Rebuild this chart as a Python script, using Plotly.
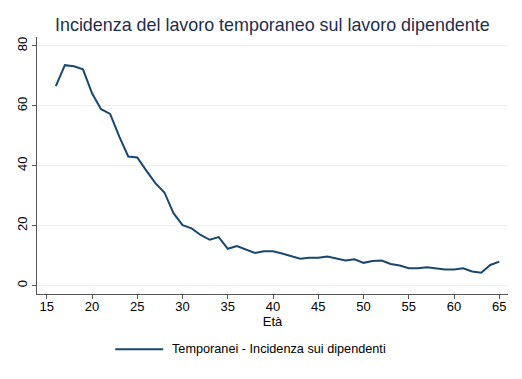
import plotly.graph_objects as go

ages = list(range(16, 66))
temporanei = [66.6, 73.6, 73.2, 72.2, 64.2, 58.9, 57.3, 49.8, 43.1, 42.8,
              38.4, 34.2, 31.1, 24.2, 20.2, 19.1, 16.9, 15.3, 16.2, 12.3,
              13.2, 12.0, 10.9, 11.5, 11.5, 10.7, 9.9, 9.0, 9.3, 9.3,
              9.7, 9.1, 8.4, 8.8, 7.6, 8.2, 8.4, 7.2, 6.7, 5.8,
              5.8, 6.1, 5.8, 5.4, 5.4, 5.8, 4.7, 4.3, 6.9, 8.0]
x_ticks = [15, 20, 25, 30, 35, 40, 45, 50, 55, 60, 65]
y_ticks = [0, 20, 40, 60, 80]

title_text = "Incidenza del lavoro temporaneo sul lavoro dipendente"
x_title = "Età"
series_name = "Temporanei - Incidenza sui dipendenti"

FONT = "Liberation Sans, Arial, sans-serif"
LINE_COLOR = "#1a476f"

# page body has an 8px margin, so the figure is sized/placed to compensate
OFF = 8
W, H = 522 - OFF, 379 - OFF
ml = 36.7 - OFF
mt = 36.7 - OFF
mr = 522 - 508
mb = 379 - 293.7
PW = W - ml - mr
PH = H - mt - mb


def xpaper(xp):
    return (xp - OFF - ml) / PW


def ypaper(yp):
    return 1 - (yp - OFF - mt) / PH


fig = go.Figure()
fig.add_trace(go.Scatter(x=ages, y=temporanei, mode="lines", name=series_name,
                         showlegend=False,
                         line=dict(color=LINE_COLOR, width=2)))

# manual legend
leg_y = 349
fig.add_shape(type="line", xref="paper", yref="paper",
              x0=xpaper(115), x1=xpaper(163), y0=ypaper(leg_y), y1=ypaper(leg_y),
              line=dict(color=LINE_COLOR, width=2))
fig.add_annotation(text=series_name, xref="paper", yref="paper",
                   x=xpaper(170), xanchor="left", y=ypaper(leg_y), yanchor="middle",
                   showarrow=False, font=dict(size=12.7, color="black", family=FONT))

fig.update_layout(
    width=W, height=H,
    margin=dict(l=ml, r=mr, t=mt, b=mb, pad=0, autoexpand=False),
    paper_bgcolor="white", plot_bgcolor="white",
    font=dict(family=FONT, color="black", size=13),
    title=dict(text=title_text, x=(ml + (W - mr)) / 2 / W, xanchor="center",
               y=1 - (25 - OFF) / H, yanchor="middle",
               font=dict(size=17.9, color="#1e2d4e", family=FONT)),
    showlegend=False,
    xaxis=dict(range=[13.92, 65.96], tickvals=x_ticks, ticks="outside", ticklen=4,
               tickcolor="#555555", showline=True, linecolor="#555555", linewidth=1,
               showgrid=False, zeroline=False, automargin=False,
               ticklabelstandoff=-4,
               title=dict(text=x_title, standoff=4, font=dict(size=13)),
               tickfont=dict(size=13)),
    yaxis=dict(range=[-2.8, 83], tickvals=y_ticks, ticks="outside", ticklen=4,
               tickcolor="#555555", showline=True, linecolor="#555555", linewidth=1,
               showgrid=True, gridcolor="#eaf2f3", gridwidth=1, zeroline=False,
               automargin=False, tickangle=-90, tickfont=dict(size=13)),
)

fig.write_html("out.html")
